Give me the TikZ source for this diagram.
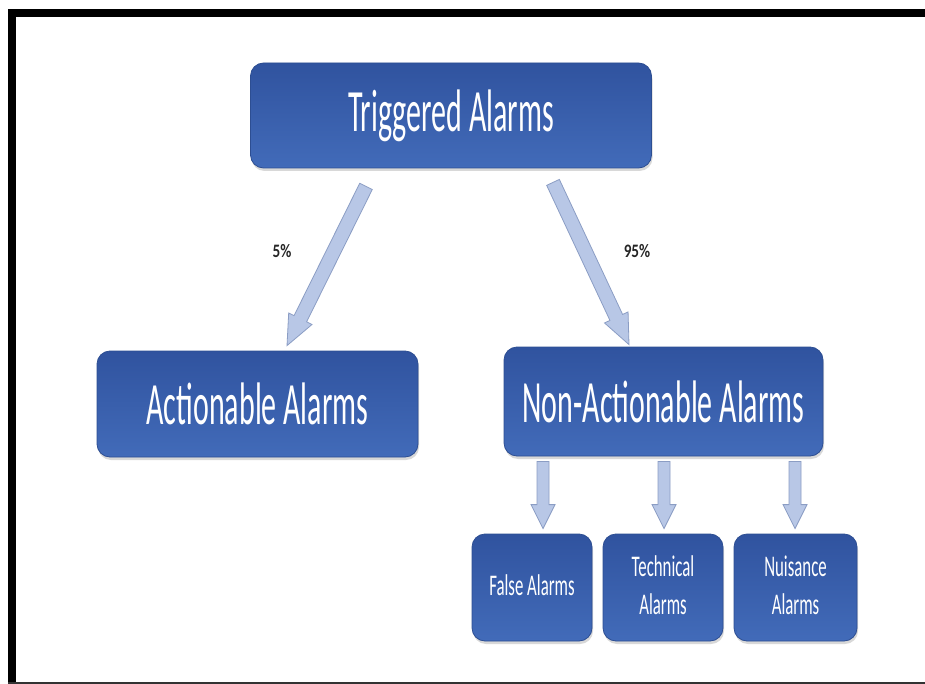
\documentclass[tikz,border=0pt]{standalone}
\usepackage{fontspec}
\usepackage{graphicx}
\setmainfont{Carlito}
\usetikzlibrary{calc,shadows}

\definecolor{boxtop}{HTML}{30539F}
\definecolor{boxbot}{HTML}{426BB9}
\definecolor{boxline}{HTML}{2D4E92}
\definecolor{flowfill}{HTML}{B8C7E6}
\definecolor{flowline}{HTML}{8B9DC4}

% condensed white captions
\newcommand\mainlabel[1]{\scalebox{0.5}[1]{\fontsize{60}{61}\selectfont #1}}
\newcommand\sublabel[1]{\scalebox{0.56}[1]{\fontsize{30}{38}\selectfont\begin{tabular}{@{}c@{}}#1\end{tabular}}}

% block arrow: #1 tail, #2 tip, #3 half shaft width, #4 half head width, #5 head length
\newcommand\fatarrow[5]{%
  \draw[flow] ($(#1)!#3!90:(#2)$)
    -- ($($(#2)!#5!(#1)$)!#3!90:(#2)$)
    -- ($($(#2)!#5!(#1)$)!#4!90:(#2)$)
    -- (#2)
    -- ($($(#2)!#5!(#1)$)!#4!-90:(#2)$)
    -- ($($(#2)!#5!(#1)$)!#3!-90:(#2)$)
    -- ($(#1)!#3!-90:(#2)$) -- cycle;}

\begin{document}
\begin{tikzpicture}[x=1pt,y=-1pt,
  box/.style={draw=boxline, line width=0.8pt, rounded corners=13pt,
    top color=boxtop, bottom color=boxbot, text=white, inner sep=0pt,
    drop shadow={shadow xshift=1pt, shadow yshift=-3pt, opacity=0.25, fill=black!60}},
  flow/.style={draw=flowline, fill=flowfill, line width=0.8pt, line join=miter},
  pct/.style={text=black!85, inner sep=0pt, font=\fontsize{19}{20}\selectfont\bfseries}]

\useasboundingbox (0,0) rectangle (925,684);
\fill[white] (0,0) rectangle (925,684);

% frame
\fill[black] (8,9.5) rectangle (925,17);
\fill[black] (8,9.5) rectangle (16,684);
\fill[black!80] (8,682.3) rectangle (925,684);

% boxes
\node[box, minimum width=401pt, minimum height=105pt] (trig) at (451,115.5) {\mainlabel{Triggered Alarms}};
\node[box, minimum width=321pt, minimum height=106pt] (act) at (257.5,404) {\mainlabel{Actionable Alarms}};
\node[box, minimum width=319pt, minimum height=109pt] (nonact) at (663.5,401.5) {\mainlabel{Non-Actionable Alarms}};
\node[box, minimum width=120pt, minimum height=107pt] (fals) at (532,587.5) {\sublabel{False Alarms}};
\node[box, minimum width=120pt, minimum height=107pt] (tech) at (663,587.5) {\sublabel{Technical\\Alarms}};
\node[box, minimum width=123pt, minimum height=107pt] (nuis) at (795.5,587.5) {\sublabel{Nuisance\\Alarms}};

% diagonal block arrows
\coordinate (ls) at ($(trig.south)+(-85,18)$);
\coordinate (le) at ($(act.north)+(29.5,-5)$);
\coordinate (rs) at ($(trig.south)+(102,14)$);
\coordinate (re) at ($(nonact.north)+(-34.5,-2)$);
\fatarrow{ls}{le}{7pt}{13pt}{30pt}
\fatarrow{rs}{re}{7pt}{13pt}{30pt}

% short down arrows
\coordinate (fs) at ($(nonact.south)+(-120.5,5)$);
\coordinate (fe) at ($(fs |- fals.north)+(0,-5)$);
\coordinate (ts) at ($(nonact.south)+(0.5,5)$);
\coordinate (te) at ($(ts |- tech.north)+(0,-5)$);
\coordinate (ns) at ($(nonact.south)+(131.5,5)$);
\coordinate (ne) at ($(ns |- nuis.north)+(0,-5)$);
\fatarrow{fs}{fe}{6pt}{12pt}{24pt}
\fatarrow{ts}{te}{6pt}{12pt}{24pt}
\fatarrow{ns}{ne}{6pt}{12pt}{24pt}

% shares
\node[pct] (p5) at (282,251) {\scalebox{0.8}[1]{5\%}};
\node[pct] (p95) at (637,251) {\scalebox{0.8}[1]{95\%}};
\end{tikzpicture}
\end{document}
